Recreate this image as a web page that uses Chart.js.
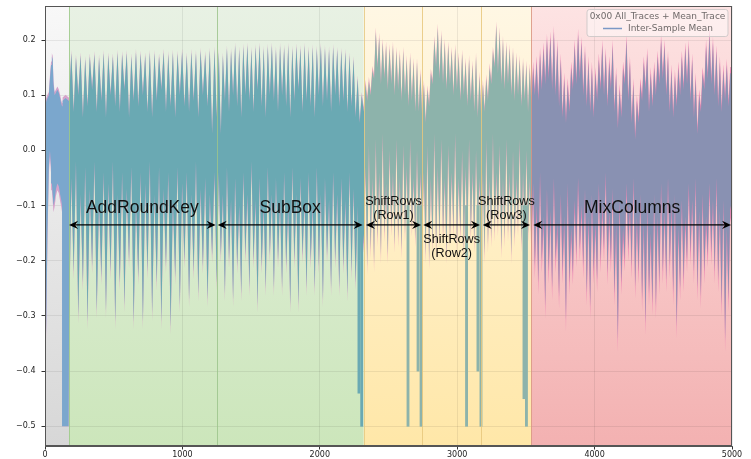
<!DOCTYPE html>
<html><head><meta charset="utf-8">
<script src="https://cdn.jsdelivr.net/npm/chart.js@4.4.0/dist/chart.umd.min.js"></script>
<style>html,body{margin:0;padding:0;background:#fff;overflow:hidden}</style>
</head><body>
<canvas id="c" width="751" height="459"></canvas>
<script>
// ---------------- data ----------------
const xTicks = [0, 1000, 2000, 3000, 4000, 5000];
const xTickLabels = ['0', '1000', '2000', '3000', '4000', '5000'];
const yTicks = [0.2, 0.1, 0.0, -0.1, -0.2, -0.3, -0.4, -0.5];
const yTickLabels = ['0.2', '0.1', '0.0', '\u22120.1', '\u22120.2', '\u22120.3', '\u22120.4', '\u22120.5'];

// background regions: idle, AddRoundKey+SubBox, ShiftRows, MixColumns
const regionStart = [0, 175, 2320, 3540];
const regionEnd = [175, 2320, 3540, 5000];
const stageBoundaries = [175, 1250, 2320, 2745, 3175, 3540];

// annotated stages (arrows + labels)
const stageLabels = ['AddRoundKey', 'SubBox', 'ShiftRows|(Row1)', 'ShiftRows|(Row2)', 'ShiftRows|(Row3)', 'MixColumns'];
const stageFrom = [175, 1257, 2336, 2753, 3186, 3554];
const stageTo = [1242, 2312, 2737, 3166, 3530, 4993];
const stageArrowY = -0.135;
const stageLabelY = [-0.1055, -0.1055, -0.092, -0.161, -0.092, -0.1055];

// idle part of the trace (explicit envelope)
const idleX   = [0, 5, 10, 18, 28, 36, 44, 50, 56, 62, 70, 80, 90, 100, 110, 118, 124, 128, 150, 172];
const idleMax = [0.08, 0.085, 0.09, 0.095, 0.10, 0.13, 0.155, 0.17, 0.165, 0.12, 0.10, 0.105, 0.11, 0.105, 0.095, 0.085, 0.08, 0.09, 0.095, 0.09];
const idleMin = [-0.25, -0.36, -0.30, -0.15, -0.03, 0.0, -0.03, -0.06, -0.08, -0.10, -0.09, -0.07, -0.06, -0.065, -0.08, -0.09, -0.10, -0.50, -0.50, -0.50];

// AddRoundKey: 175..1250, one entry per clock cycle
const arkPeaks = [0.176,0.168,0.172,0.165,0.170,0.174,0.168,0.176,0.172,0.170,0.177,0.174,0.176,0.170,0.178,0.175,0.172,0.177,0.176,0.170,0.178,0.174,0.177,0.175,0.179,0.172,0.178,0.176,0.180,0.174,0.181,0.183];
const arkValleys = [0.09,0.07,0.10,0.06,0.08,0.11,0.07,0.09,0.06,0.10,0.08,0.07,0.11,0.06,0.09,0.08,0.10,0.07,0.06,0.09,0.11,0.07,0.08,0.06,0.10,0.08,0.07,0.09,0.06,0.10,0.08,0.03];
const arkShoulders = [-0.05,-0.02,-0.08,-0.03,-0.07,-0.02,-0.09,-0.04,-0.06,-0.02,-0.08,-0.04,-0.07,-0.03,-0.09,-0.04,-0.06,-0.02,-0.08,-0.03,-0.07,-0.04,-0.09,-0.03,-0.06,-0.04,-0.08,-0.02,-0.07,-0.05,-0.08,-0.04];
const arkDips = [-0.325,-0.22,-0.30,-0.24,-0.31,-0.21,-0.29,-0.23,-0.29,-0.22,-0.31,-0.24,-0.28,-0.20,-0.31,-0.23,-0.31,-0.22,-0.295,-0.24,-0.31,-0.21,-0.32,-0.23,-0.28,-0.20,-0.27,-0.22,-0.26,-0.21,-0.27,-0.19];

// SubBox: 1250..2320
const sbPeaks = [0.178,0.172,0.185,0.18,0.19,0.183,0.188,0.19,0.182,0.187,0.19,0.184,0.188,0.19,0.183,0.189,0.186,0.19,0.184,0.188,0.185,0.19,0.183,0.187,0.184,0.189,0.185,0.183,0.187,0.182,0.18,0.178,0.172,0.165,0.13,0.10];
const sbValleys = [0.06,0.03,0.09,0.07,0.10,0.08,0.06,0.10,0.09,0.07,0.11,0.08,0.06,0.10,0.09,0.07,0.10,0.08,0.06,0.09,0.11,0.07,0.09,0.08,0.06,0.10,0.08,0.09,0.07,0.10,0.08,0.09,0.07,0.08,0.06,0.05];
const sbShoulders = [-0.04,-0.08,-0.03,-0.09,-0.05,-0.10,-0.04,-0.08,-0.02,-0.09,-0.05,-0.10,-0.03,-0.08,-0.05,-0.09,-0.04,-0.10,-0.03,-0.08,-0.05,-0.09,-0.04,-0.10,-0.03,-0.08,-0.05,-0.09,-0.04,-0.08,-0.05,-0.09,-0.04,-0.07,-0.10,-0.12];
const sbDips = [-0.24,-0.19,-0.26,-0.20,-0.27,-0.21,-0.26,-0.19,-0.25,-0.20,-0.28,-0.21,-0.25,-0.19,-0.25,-0.20,-0.25,-0.21,-0.28,-0.20,-0.28,-0.19,-0.25,-0.20,-0.25,-0.21,-0.27,-0.19,-0.25,-0.20,-0.25,-0.21,-0.26,-0.22,-0.24,-0.20];

// ShiftRows Row1: 2320..2745
const r1Peaks = [0.12,0.125,0.145,0.215,0.205,0.195,0.19,0.185,0.19,0.18,0.175,0.18,0.165,0.17,0.16,0.16,0.14];
const r1Valleys = [0.07,0.09,0.10,0.13,0.15,0.12,0.13,0.11,0.12,0.10,0.11,0.09,0.10,0.08,0.09,0.07,0.07];
const r1Shoulders = [-0.03,0.01,-0.05,0.02,-0.04,0.03,-0.06,0.0,-0.04,0.02,-0.05,0.01,-0.03,0.02,-0.05,0.0,-0.04];
const r1Dips = [-0.17,-0.21,-0.18,-0.205,-0.16,-0.19,-0.15,-0.19,-0.14,-0.17,-0.16,-0.18,-0.15,-0.17,-0.14,-0.16,-0.15];

// ShiftRows Row2: 2745..3175
const r2Peaks = [0.12,0.11,0.14,0.20,0.222,0.21,0.195,0.19,0.18,0.185,0.17,0.175,0.16,0.165,0.155,0.17,0.135];
const r2Valleys = [0.06,0.05,0.08,0.12,0.15,0.13,0.12,0.11,0.12,0.10,0.11,0.09,0.10,0.08,0.09,0.07,0.06];
const r2Shoulders = [-0.04,0.01,-0.05,0.03,-0.03,0.02,-0.05,0.01,-0.04,0.03,-0.05,0.0,-0.03,0.02,-0.04,0.0,-0.05];
const r2Dips = [-0.15,-0.19,-0.20,-0.17,-0.18,-0.16,-0.15,-0.19,-0.16,-0.145,-0.17,-0.15,-0.18,-0.16,-0.15,-0.17,-0.14];

// ShiftRows Row3: 3175..3540
const r3Peaks = [0.12,0.13,0.15,0.18,0.226,0.215,0.20,0.19,0.185,0.18,0.17,0.165,0.16,0.155,0.15];
const r3Valleys = [0.06,0.07,0.09,0.12,0.15,0.14,0.12,0.11,0.12,0.10,0.09,0.10,0.08,0.09,0.07];
const r3Shoulders = [-0.04,0.02,-0.05,0.03,-0.04,0.01,-0.05,0.02,-0.04,0.0,-0.05,0.02,-0.04,0.0,-0.05];
const r3Dips = [-0.18,-0.19,-0.17,-0.16,-0.15,-0.14,-0.18,-0.16,-0.15,-0.19,-0.16,-0.14,-0.17,-0.16,-0.15];

// MixColumns: 3540..5000
const mcPeaks = [0.15,0.16,0.175,0.185,0.20,0.205,0.215,0.19,0.165,0.13, 0.12,0.15,0.19,0.21,0.195,0.18,0.16,0.15,0.14,0.165, 0.19,0.175,0.16,0.19,0.14,0.11,0.15,0.20,0.16,0.12, 0.09,0.12,0.16,0.175,0.14,0.15,0.17,0.20,0.19,0.17, 0.145,0.135,0.15,0.17,0.185,0.19,0.165,0.13,0.10,0.14, 0.19,0.21,0.195,0.18,0.16,0.145,0.155,0.14];
const mcValleys = [0.08,0.10,0.09,0.11,0.12,0.13,0.11,0.10,0.08,0.06, 0.05,0.07,0.11,0.12,0.13,0.10,0.08,0.07,0.06,0.09, 0.11,0.10,0.08,0.11,0.07,0.04,0.06,0.12,0.09,0.05, 0.02,0.05,0.09,0.11,0.07,0.08,0.10,0.12,0.13,0.10, 0.07,0.06,0.08,0.10,0.11,0.12,0.09,0.06,0.03,0.07, 0.11,0.13,0.12,0.10,0.08,0.07,0.09,0.08];
const mcShoulders = [-0.06,-0.10,-0.04,-0.12,-0.07,-0.11,-0.05,-0.13,-0.08,-0.12, -0.06,-0.14,-0.09,-0.05,-0.10,-0.07,-0.12,-0.08,-0.13,-0.06, -0.10,-0.04,-0.11,-0.07,-0.13,-0.09,-0.14,-0.06,-0.10,-0.05, -0.12,-0.08,-0.13,-0.10,-0.15,-0.08,-0.12,-0.06,-0.11,-0.05, -0.10,-0.08,-0.14,-0.09,-0.12,-0.06,-0.09,-0.05,-0.11,-0.08, -0.12,-0.06,-0.09,-0.05,-0.11,-0.09,-0.14,-0.10];
const mcDips = [-0.18,-0.21,-0.24,-0.20,-0.283,-0.22,-0.25,-0.20,-0.265,-0.22, -0.307,-0.24,-0.222,-0.19,-0.18,-0.21,-0.259,-0.283,-0.22,-0.235, -0.20,-0.18,-0.222,-0.20,-0.26,-0.344,-0.24,-0.198,-0.18,-0.21, -0.247,-0.22,-0.27,-0.313,-0.26,-0.277,-0.283,-0.24,-0.22,-0.235, -0.21,-0.259,-0.319,-0.25,-0.235,-0.20,-0.186,-0.22,-0.25,-0.265, -0.22,-0.19,-0.186,-0.22,-0.235,-0.28,-0.344,-0.27];
const traceEndMax = 0.14, traceEndMin = -0.12;

// saturated drops to -0.5
const deepDipX = [2285, 2305, 2642, 2715, 2737, 3068, 3151, 3173, 3486, 3504];
const deepDipY = [-0.44, -0.50, -0.50, -0.40, -0.50, -0.50, -0.40, -0.50, -0.45, -0.50];
const deepDipTop = -0.10;

// spread of the individual traces around the mean (pink), per region
const spreadUp = [0.006, 0.006, 0.008, 0.011];
const spreadDown = [0.012, 0.014, 0.016, 0.022];
const saturation = -0.5;

// ---------------- styles ----------------
const bgTop = ['#f8f8f8', '#e8f1e4', '#fff7e4', '#fde3e3'];
const bgBottom = ['#d7d7d7', '#cce6bb', '#ffe7a8', '#f3b1b1'];
const traceColors = ['#7ba7cd', '#6aa9b3', '#8db3ab', '#8991b2'];
const pinkColors = ['#d6a3cb', '#d6a5c7', '#eba6bd', '#eb86b3'];
const boundaryColors = ['#9dc98a', '#9cc48c', '#e5c982', '#e8c77c', '#e8c77c', '#d9957f'];

// ---------------- build envelopes ----------------
const stages = [
  {start: 175, end: 1250, peaks: arkPeaks, valleys: arkValleys, shoulders: arkShoulders, dips: arkDips},
  {start: 1250, end: 2320, peaks: sbPeaks, valleys: sbValleys, shoulders: sbShoulders, dips: sbDips},
  {start: 2320, end: 2745, peaks: r1Peaks, valleys: r1Valleys, shoulders: r1Shoulders, dips: r1Dips},
  {start: 2745, end: 3175, peaks: r2Peaks, valleys: r2Valleys, shoulders: r2Shoulders, dips: r2Dips},
  {start: 3175, end: 3540, peaks: r3Peaks, valleys: r3Valleys, shoulders: r3Shoulders, dips: r3Dips},
  {start: 3540, end: 5000, peaks: mcPeaks, valleys: mcValleys, shoulders: mcShoulders, dips: mcDips}
];
function regionOf(x) { for (let r = regionStart.length - 1; r >= 0; r--) if (x >= regionStart[r]) return r; return 0; }

const meanUpper = [], meanLower = [];
idleX.forEach((x, i) => { meanUpper.push({x, y: idleMax[i]}); meanLower.push({x, y: idleMin[i]}); });
for (const s of stages) {
  const n = Math.min(s.peaks.length, s.valleys.length, s.shoulders.length, s.dips.length);
  const p = (s.end - s.start) / n;
  for (let i = 0; i < n; i++) {
    const a = s.start + i * p;
    meanUpper.push({x: a, y: s.valleys[i]}, {x: a + p / 2, y: s.peaks[i]});
    meanLower.push({x: a, y: s.dips[i]}, {x: a + p / 2, y: s.shoulders[i]});
  }
}
meanUpper.push({x: 5000, y: traceEndMax});
meanLower.push({x: 5000, y: traceEndMin});
const allUpper = meanUpper.map(pt => ({x: pt.x, y: pt.y + spreadUp[regionOf(pt.x)]}));
const allLower = meanLower.map(pt => ({x: pt.x, y: Math.max(saturation, pt.y - spreadDown[regionOf(pt.x)])}));
const dipBars = deepDipX.map((x, i) => ({x, y: [deepDipY[i], deepDipTop]}));

function hGradient(chart, colors) {
  const {ctx, chartArea, scales} = chart;
  if (!chartArea || !scales.x) return colors[0];
  const x = scales.x;
  const x0 = x.getPixelForValue(0), x1 = x.getPixelForValue(5000);
  const g = ctx.createLinearGradient(x0, 0, x1, 0);
  for (let r = 0; r < regionStart.length; r++) {
    const t0 = (x.getPixelForValue(regionStart[r]) - x0) / (x1 - x0);
    const t1 = (x.getPixelForValue(regionEnd[r]) - x0) / (x1 - x0);
    g.addColorStop(Math.max(0, Math.min(1, t0)), colors[r]);
    g.addColorStop(Math.max(0, Math.min(1, t1)), colors[r]);
  }
  return g;
}

// ---------------- plugins ----------------
const backgroundPlugin = {
  id: 'regionsBg',
  beforeDraw(chart) {
    const {ctx, chartArea: a, scales: {x}} = chart;
    ctx.save();
    for (let r = 0; r < regionStart.length; r++) {
      const x1 = x.getPixelForValue(regionStart[r]), x2 = x.getPixelForValue(regionEnd[r]);
      const g = ctx.createLinearGradient(0, a.top, 0, a.bottom);
      g.addColorStop(0, bgTop[r]); g.addColorStop(1, bgBottom[r]);
      ctx.fillStyle = g;
      ctx.fillRect(x1, a.top, x2 - x1, a.bottom - a.top);
    }
    ctx.restore();
  },
  afterDatasetsDraw(chart) {
    const {ctx, chartArea: a, scales: {x}} = chart;
    ctx.save();
    ctx.lineWidth = 1;
    stageBoundaries.forEach((b, i) => {
      const px = Math.round(x.getPixelForValue(b)) + 0.5;
      ctx.strokeStyle = boundaryColors[i];
      ctx.globalAlpha = 0.85;
      ctx.beginPath(); ctx.moveTo(px, a.top); ctx.lineTo(px, a.bottom); ctx.stroke();
    });
    ctx.restore();
  }
};

function arrowHead(ctx, tipX, y, dir) {
  const L = 9, W = 4.2, N = 6;
  ctx.beginPath();
  ctx.moveTo(tipX, y);
  ctx.lineTo(tipX - dir * L, y - W);
  ctx.lineTo(tipX - dir * N, y);
  ctx.lineTo(tipX - dir * L, y + W);
  ctx.closePath();
  ctx.fill();
}

const annotationPlugin = {
  id: 'stages',
  afterDraw(chart) {
    const {ctx, scales: {x, y}} = chart;
    ctx.save();
    ctx.strokeStyle = '#000'; ctx.fillStyle = '#000'; ctx.lineWidth = 1.4;
    const ay = y.getPixelForValue(stageArrowY);
    stageLabels.forEach((lab, i) => {
      const x1 = x.getPixelForValue(stageFrom[i]), x2 = x.getPixelForValue(stageTo[i]);
      ctx.beginPath(); ctx.moveTo(x1 + 5, ay); ctx.lineTo(x2 - 5, ay); ctx.stroke();
      arrowHead(ctx, x1, ay, -1); arrowHead(ctx, x2, ay, 1);
      const cx = (x1 + x2) / 2;
      const ly = y.getPixelForValue(stageLabelY[i]);
      ctx.fillStyle = '#111';
      ctx.textAlign = 'center'; ctx.textBaseline = 'middle';
      const lines = lab.split('|');
      if (lines.length === 1) {
        ctx.font = '17.5px "Liberation Sans", Arial, sans-serif';
        ctx.fillText(lines[0], cx, ly);
      } else {
        ctx.font = '12.6px "Liberation Sans", Arial, sans-serif';
        lines.forEach((t, k) => ctx.fillText(t, cx, ly + k * 14));
      }
      ctx.fillStyle = '#000';
    });
    // frame (top and right spines)
    const a = chart.chartArea;
    ctx.strokeStyle = '#555'; ctx.lineWidth = 1;
    ctx.strokeRect(Math.round(a.left) + 0.5, Math.round(a.top) + 0.5, Math.round(a.right - a.left) - 1, Math.round(a.bottom - a.top) - 1);
    // legend
    const bx = 587, by = 9.5, bw = 141, bh = 27;
    ctx.fillStyle = 'rgba(255,255,255,0.45)';
    ctx.strokeStyle = 'rgba(205,200,200,0.9)';
    ctx.beginPath();
    if (ctx.roundRect) ctx.roundRect(bx, by, bw, bh, 2.5); else ctx.rect(bx, by, bw, bh);
    ctx.fill(); ctx.stroke();
    ctx.fillStyle = '#6f6a6a';
    ctx.font = '9px "DejaVu Sans", sans-serif';
    ctx.textAlign = 'center'; ctx.textBaseline = 'middle';
    ctx.fillText('0x00 All_Traces + Mean_Trace', bx + bw / 2, 17);
    ctx.textAlign = 'left';
    ctx.fillText('Inter-Sample Mean', 628, 28.5);
    ctx.strokeStyle = '#7b98c6'; ctx.lineWidth = 1.5;
    ctx.beginPath(); ctx.moveTo(603, 28.5); ctx.lineTo(622, 28.5); ctx.stroke();
    ctx.restore();
  }
};

// ---------------- chart ----------------
const tickFont = {family: 'DejaVu Sans', size: 8};
new Chart(document.getElementById('c'), {
  type: 'line',
  data: {
    datasets: [
      {label: 'All traces max', data: allUpper, fill: '+1', order: 3, borderWidth: 0, pointRadius: 0,
       backgroundColor: c => hGradient(c.chart, pinkColors), borderColor: 'rgba(0,0,0,0)'},
      {label: 'All traces min', data: allLower, fill: false, order: 3, borderWidth: 0, pointRadius: 0,
       borderColor: 'rgba(0,0,0,0)'},
      {label: 'Inter-Sample Mean max', data: meanUpper, fill: '+1', order: 2, borderWidth: 0, pointRadius: 0,
       backgroundColor: c => hGradient(c.chart, traceColors), borderColor: 'rgba(0,0,0,0)'},
      {label: 'Inter-Sample Mean min', data: meanLower, fill: false, order: 2, borderWidth: 0, pointRadius: 0,
       borderColor: 'rgba(0,0,0,0)'},
      {type: 'bar', label: 'saturated', data: dipBars, order: 1, barThickness: 2.2, borderWidth: 0,
       backgroundColor: c => traceColors[regionOf(c.raw ? c.raw.x : 0)]}
    ]
  },
  options: {
    responsive: false, animation: false, devicePixelRatio: 1,
    layout: {padding: {top: 6, right: 19, left: 0, bottom: 0}},
    plugins: {legend: {display: false}, tooltip: {enabled: false}},
    elements: {line: {tension: 0}},
    scales: {
      x: {
        type: 'linear', min: 0, max: 5000, offset: false,
        grid: {color: 'rgba(0,0,0,0.07)', tickLength: 3.5, tickColor: '#333', lineWidth: 1, offset: false},
        border: {display: true, color: '#555'},
        ticks: {font: tickFont, color: '#222', padding: 1, maxRotation: 0, autoSkip: false, stepSize: 1000, includeBounds: false,
          callback: v => { const i = xTicks.indexOf(v); return i >= 0 ? xTickLabels[i] : ''; }},
        afterBuildTicks: s => { s.ticks = xTicks.map(v => ({value: v})); },
        afterFit: s => { s.height = 13; s.paddingLeft = 0; s.paddingRight = 0; }
      },
      y: {
        type: 'linear', min: -0.5357, max: 0.2617,
        grid: {color: 'rgba(0,0,0,0.07)', tickLength: 3.5, tickColor: '#333', lineWidth: 1, offset: false},
        border: {display: true, color: '#555'},
        ticks: {font: tickFont, color: '#222', padding: 6, stepSize: 0.1, includeBounds: false,
          callback: v => { const i = yTicks.findIndex(t => Math.abs(t - v) < 1e-6); return i >= 0 ? yTickLabels[i] : ''; }},
        afterBuildTicks: s => { s.ticks = yTicks.map(v => ({value: v})); },
        afterFit: s => { s.width = 45; s.paddingTop = 0; s.paddingBottom = 0; }
      }
    }
  },
  plugins: [backgroundPlugin, annotationPlugin]
});
</script>
</body></html>
